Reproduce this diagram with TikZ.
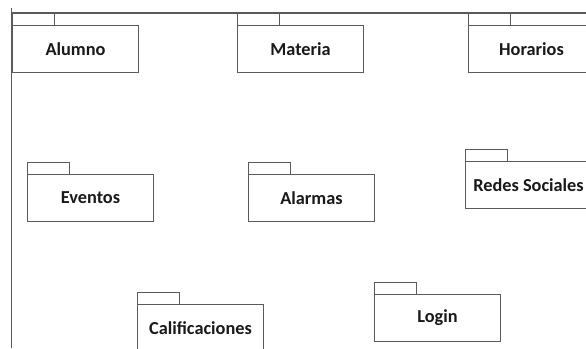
\documentclass[tikz,border=0pt]{standalone}
\usepackage{fontspec}
\setmainfont{Carlito}
\usepackage{tikz}
\usetikzlibrary{positioning}
\definecolor{linea}{RGB}{90,90,90}
\definecolor{texto}{RGB}{25,25,25}

\begin{document}
\begin{tikzpicture}[
  x=1pt,y=-1pt,
  paquete/.style={rectangle,draw=linea,line width=1pt,anchor=north west,
                  minimum width=126pt,minimum height=47pt,inner sep=0pt,
                  text=texto,font=\fontsize{18.3}{21}\selectfont\bfseries},
  pestana/.style={draw=linea,line width=0.9pt},
  marco/.style={draw=linea,line width=1.3pt}
]
\clip (0,0) rectangle (586,348);
\fill[white] (0,0) rectangle (586,348);
%% Marco
\coordinate (m0) at (11.5,8);
\coordinate (m1) at (11.5,348);
\coordinate (m2) at (11.5,13);
\coordinate (m3) at (586,13);
\draw[marco] (m0) -- (m1);
\draw[marco] (m2) -- (m3);
%% Paquetes
\node[paquete] (alumno)   at (12,25)   {Alumno};
\node[paquete] (materia)  at (237,25)  {Materia};
\node[paquete] (horarios) at (468,25)  {Horarios};
\node[paquete] (eventos)  at (27,174)  {Eventos};
\node[paquete] (alarmas)  at (248,174) {Alarmas};
\node[paquete] (redes)    at (465,161) {Redes Sociales};
\node[paquete] (calif)    at (137,304) {Calificaciones};
\node[paquete] (login)    at (374,294) {Login};
%% Pestañas
\foreach \p in {alumno,materia,horarios,eventos,alarmas,redes,calif,login}
  \draw[pestana] (\p.north west) rectangle ++(42pt,12pt);
\end{tikzpicture}
\end{document}
